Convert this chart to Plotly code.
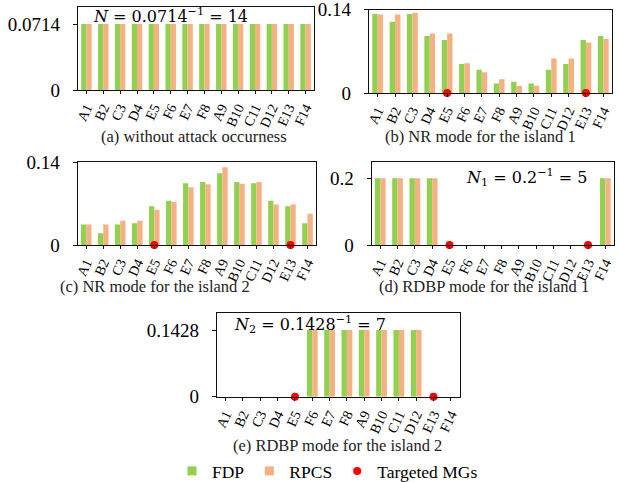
import plotly.graph_objects as go

W, H = 619, 482

categories = ["A1", "B2", "C3", "D4", "E5", "F6", "E7", "F8", "A9", "B10", "C11", "D12", "E13", "F14"]

# (a) without attack occurness
a_fdp = [0.0714] * 14
a_rpcs = [0.0714] * 14
# (b) NR mode for the island 1
b_fdp = [0.133, 0.120, 0.133, 0.096, 0.089, 0.049, 0.039, 0.016, 0.019, 0.016, 0.039, 0.049, 0.089, 0.096]
b_rpcs = [0.132, 0.132, 0.135, 0.100, 0.100, 0.050, 0.035, 0.023, 0.012, 0.012, 0.058, 0.058, 0.085, 0.091]
# (c) NR mode for the island 2
c_fdp = [0.035, 0.020, 0.035, 0.037, 0.066, 0.075, 0.105, 0.107, 0.122, 0.107, 0.105, 0.075, 0.066, 0.037]
c_rpcs = [0.035, 0.035, 0.041, 0.041, 0.060, 0.073, 0.098, 0.103, 0.132, 0.104, 0.107, 0.069, 0.069, 0.053]
# (d) RDBP mode for the island 1
d_fdp = [0.2, 0.2, 0.2, 0.2, 0, 0, 0, 0, 0, 0, 0, 0, 0, 0.2]
d_rpcs = [0.2, 0.2, 0.2, 0.2, 0, 0, 0, 0, 0, 0, 0, 0, 0, 0.2]
# (e) RDBP mode for the island 2
e_fdp = [0, 0, 0, 0, 0, 0.1428, 0.1428, 0.1428, 0.1428, 0.1428, 0.1428, 0.1428, 0, 0]
e_rpcs = [0, 0, 0, 0, 0, 0.1428, 0.1428, 0.1428, 0.1428, 0.1428, 0.1428, 0.1428, 0, 0]

targeted = ["E5", "E13"]
targeted_vals = [0, 0]

GREEN = "#92D050"
ORANGE = "#F4B183"
RED = "#FF0000"
FONT = "Liberation Serif"
MATH = "DejaVu Serif"


def X(px):
    return min(1.0, max(0.0, px / W))


def Y(py):
    return min(1.0, max(0.0, 1 - py / H))


panels = [
    dict(fdp=a_fdp, rpcs=a_rpcs, px=(78, 314, 7, 90), ytop=0.0898, tv=[0, 0.0714], tt=["0", "0.0714"],
         cap="(a) without attack occurness", capx=194, capy=136, dots=False),
    dict(fdp=b_fdp, rpcs=b_rpcs, px=(369, 612, 9.5, 93), ytop=0.1405, tv=[0, 0.14], tt=["0", "0.14"],
         cap="(b) NR mode for the island 1", capx=480, capy=136, dots=True),
    dict(fdp=c_fdp, rpcs=c_rpcs, px=(77.7, 316, 162.3, 245), ytop=0.1405, tv=[0, 0.14], tt=["0", "0.14"],
         cap="(c) NR mode for the island 2", capx=155, capy=286, dots=True),
    dict(fdp=d_fdp, rpcs=d_rpcs, px=(371.6, 614, 162.3, 245), ytop=0.248, tv=[0, 0.2], tt=["0", "0.2"],
         cap="(d) RDBP mode for the island 1", capx=484, capy=286, dots=True),
    dict(fdp=e_fdp, rpcs=e_rpcs, px=(217, 459.5, 313.3, 396.7), ytop=0.1786, tv=[0, 0.1428], tt=["0", "0.1428"],
         cap="(e) RDBP mode for the island 2", capx=337, capy=445, dots=True),
]

fig = go.Figure()
annotations = []
for i, p in enumerate(panels):
    n = "" if i == 0 else str(i + 1)
    xa, ya = "x" + n, "y" + n
    fig.add_trace(go.Bar(x=categories, y=p["fdp"], marker=dict(color=GREEN, line=dict(width=0)),
                         xaxis=xa, yaxis=ya, showlegend=False, name="FDP"))
    fig.add_trace(go.Bar(x=categories, y=p["rpcs"], marker=dict(color=ORANGE, line=dict(width=0)),
                         xaxis=xa, yaxis=ya, showlegend=False, name="RPCS"))
    if p["dots"]:
        fig.add_trace(go.Scatter(x=targeted, y=targeted_vals, mode="markers",
                                 marker=dict(color=RED, size=8), xaxis=xa, yaxis=ya,
                                 showlegend=False, cliponaxis=False, name="Targeted MGs"))
    l, r, t, b = p["px"]
    fig.layout["xaxis" + n] = dict(domain=[X(l), X(r)], anchor=ya, showline=True, linecolor="#111",
                                   linewidth=1.2, mirror=True, ticks="outside", ticklen=3, tickcolor="#111",
                                   tickangle=-65, tickfont=dict(family=FONT, size=14, color="black"),
                                   tickmode="array", tickvals=categories, ticktext=categories,
                                   automargin=False,
                                   showgrid=False, range=[-0.5, 13.5], type="category", fixedrange=True)
    fig.layout["yaxis" + n] = dict(domain=[Y(b), Y(t)], anchor=xa, range=[0, p["ytop"]], showline=True,
                                   linecolor="#111", linewidth=1.2, mirror=True, ticks="outside", ticklen=4,
                                   tickcolor="#111", tickvals=p["tv"], ticktext=p["tt"], showgrid=False,
                                   ticklabelstandoff=9, ticklabeloverflow="allow", automargin=False,
                                   zeroline=False, tickfont=dict(family=FONT, size=19, color="black"))
    annotations.append(dict(text=p["cap"], x=X(p["capx"]), y=Y(p["capy"]), xref="paper", yref="paper",
                            showarrow=False, xanchor="center", yanchor="middle",
                            font=dict(family=FONT, size=16.5, color="#222")))

annotations.append(dict(text="<i>N</i> = 0.0714<sup>−1</sup> = 14", x=X(91), y=Y(16), xref="paper",
                        yref="paper", showarrow=False, xanchor="left", yanchor="middle",
                        font=dict(family=MATH, size=16, color="black")))
annotations.append(dict(text="<i>N</i><sub>1</sub> = 0.2<sup>−1</sup> = 5", x=X(464), y=Y(177),
                        xref="paper", yref="paper", showarrow=False, xanchor="left", yanchor="middle",
                        font=dict(family=MATH, size=16, color="black")))
annotations.append(dict(text="<i>N</i><sub>2</sub> = 0.1428<sup>−1</sup> = 7", x=X(232), y=Y(324),
                        xref="paper", yref="paper", showarrow=False, xanchor="left", yanchor="middle",
                        font=dict(family=MATH, size=16, color="black")))

# legend proxies
fig.add_trace(go.Scatter(x=[None], y=[None], mode="markers", name="FDP",
                         marker=dict(symbol="square", size=9, color=GREEN), showlegend=True))
fig.add_trace(go.Scatter(x=[None], y=[None], mode="markers", name="RPCS",
                         marker=dict(symbol="square", size=9, color=ORANGE), showlegend=True))
fig.add_trace(go.Scatter(x=[None], y=[None], mode="markers", name="Targeted MGs",
                         marker=dict(symbol="circle", size=8, color=RED), showlegend=True))

fig.update_layout(
    width=W, height=H, margin=dict(l=0, r=0, t=0, b=0, autoexpand=False),
    paper_bgcolor="white", plot_bgcolor="white",
    barmode="group", bargap=0.38, bargroupgap=0.0,
    annotations=annotations,
    showlegend=True,
    legend=dict(orientation="h", x=X(172), y=Y(471), xanchor="left", yanchor="middle",
                font=dict(family=FONT, size=17.5, color="black"), bgcolor="rgba(0,0,0,0)",
                itemwidth=30, tracegroupgap=0),
    font=dict(family=FONT),
)

fig.write_html("out.html", config={"displayModeBar": False},
               post_script="document.body.style.margin='0';document.body.style.overflow='hidden';")
